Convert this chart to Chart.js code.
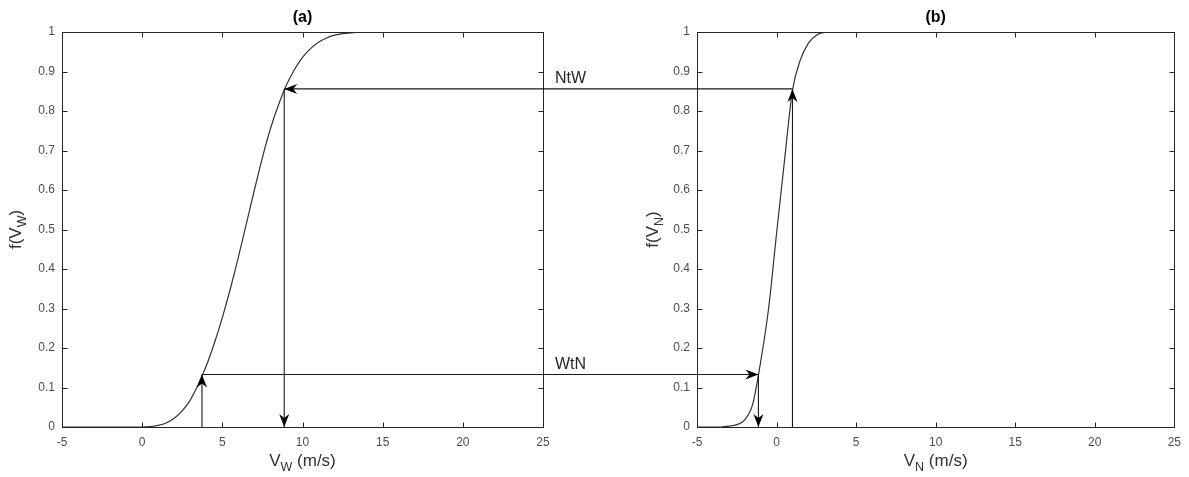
<!DOCTYPE html>
<html><head><meta charset="utf-8">
<script src="https://cdn.jsdelivr.net/npm/chart.js@4.4.1/dist/chart.umd.min.js"></script>
<style>
html,body{margin:0;padding:0;background:#fff;}
#wrap{position:relative;width:1189px;height:477px;overflow:hidden;background:#fff;}
#pa{position:absolute;left:0;top:0;width:615px;height:477px;}
#pb{position:absolute;left:615px;top:0;width:574px;height:477px;}
</style></head><body>
<div id="wrap">
<div id="pa"><canvas id="ca" width="615" height="477"></canvas></div>
<div id="pb"><canvas id="cb" width="574" height="477"></canvas></div>
</div>
<script>
// ---- data ----
const xTickValues = [-5, 0, 5, 10, 15, 20, 25];
const yTickValues = [0, 0.1, 0.2, 0.3, 0.4, 0.5, 0.6, 0.7, 0.8, 0.9, 1];

// panel (a): CDF of V_W
const windX = [-5, 0, 0.5, 1, 1.5, 2, 2.5, 3, 3.5, 4, 4.5, 5, 5.5, 6, 6.5, 7, 7.5, 8, 8.5, 9, 9.5, 10, 10.5, 11, 11.5, 12, 12.5, 13, 14, 25];
const windY = [0, 0, 0.001, 0.004, 0.01, 0.022, 0.041, 0.068, 0.108, 0.155, 0.212, 0.277, 0.35, 0.43, 0.515, 0.6, 0.682, 0.755, 0.815, 0.866, 0.905, 0.936, 0.958, 0.974, 0.985, 0.992, 0.996, 0.998, 1, 1];

// panel (b): CDF of V_N
const nodeX = [-5, -3.5, -3, -2.5, -2, -1.5, -1, -0.5, 0, 0.5, 1, 1.5, 2, 2.5, 3, 3.5, 25];
const nodeY = [0, 0, 0.002, 0.006, 0.018, 0.058, 0.165, 0.3, 0.49, 0.675, 0.852, 0.93, 0.972, 0.992, 0.999, 1, 1];

// transfer arrows
const arrowNames = ['NtW', 'WtN'];
const arrowSource = ['b', 'a'];
const arrowLevel = [0.856, 0.133];
const arrowWindX = [8.86, 3.73];
const arrowNodeX = [1.0, -1.14];

const panelTitles = ['(a)', '(b)'];

// ---- drawing ----
const FONT = '"Liberation Sans", Arial, Helvetica, sans-serif';
const INK = '#262626';

function toPts(xs, ys) { return xs.map((x, i) => ({ x: x, y: ys[i] })); }

function arrowHead(ctx, x, y, dir) {
  const L = 13, W = 5, N = 4;
  const ang = { up: -Math.PI / 2, down: Math.PI / 2, left: Math.PI, right: 0 }[dir];
  ctx.save();
  ctx.translate(x, y);
  ctx.rotate(ang);
  ctx.beginPath();
  ctx.moveTo(0, 0);
  ctx.lineTo(-L, -W);
  ctx.lineTo(-L + N, 0);
  ctx.lineTo(-L, W);
  ctx.closePath();
  ctx.fillStyle = '#000';
  ctx.fill();
  ctx.restore();
}

function drawSubText(ctx, parts, cx, cy) {
  let total = 0;
  parts.forEach(p => { ctx.font = p[1] + 'px ' + FONT; total += ctx.measureText(p[0]).width; });
  let x = cx - total / 2;
  parts.forEach(p => {
    ctx.font = p[1] + 'px ' + FONT;
    ctx.fillText(p[0], x, cy + p[2]);
    x += ctx.measureText(p[0]).width;
  });
}

function makePlugin(panel) {
  return {
    id: 'decor' + panel,
    afterDraw(chart) {
      const ctx = chart.ctx;
      const xs = chart.scales.x, ys = chart.scales.y;
      const area = chart.chartArea;
      ctx.save();
      ctx.strokeStyle = INK;
      ctx.lineWidth = 1;
      const L = Math.round(area.left) + 0.5, R = Math.round(area.right) + 0.5;
      const T = Math.round(area.top) + 0.5, B = Math.round(area.bottom) + 0.5;
      ctx.strokeRect(L, T, R - L, B - T);
      ctx.beginPath();
      xTickValues.forEach(v => {
        const px = Math.round(xs.getPixelForValue(v)) + 0.5;
        ctx.moveTo(px, B); ctx.lineTo(px, B - 5);
        ctx.moveTo(px, T); ctx.lineTo(px, T + 5);
      });
      yTickValues.forEach(v => {
        const py = Math.round(ys.getPixelForValue(v)) + 0.5;
        ctx.moveTo(L, py); ctx.lineTo(L + 5, py);
        ctx.moveTo(R, py); ctx.lineTo(R - 5, py);
      });
      ctx.stroke();

      // title
      ctx.fillStyle = '#000';
      ctx.textAlign = 'center';
      ctx.textBaseline = 'alphabetic';
      ctx.font = 'bold 16px ' + FONT;
      ctx.fillText(panelTitles[panel === 'a' ? 0 : 1], (area.left + area.right) / 2, 22);

      // axis titles
      const sub = panel === 'a' ? 'W' : 'N';
      ctx.fillStyle = '#333';
      ctx.textAlign = 'left';
      drawSubText(ctx, [['V', 17, 0], [sub, 12.5, 5], [' (m/s)', 17, 0]], (area.left + area.right) / 2, 466);
      ctx.save();
      const yTitleX = panel === 'a' ? 21 : 43;
      ctx.translate(yTitleX, (area.top + area.bottom) / 2);
      ctx.rotate(-Math.PI / 2);
      drawSubText(ctx, [['f(V', 17, 0], [sub, 12.5, 5], [')', 17, 0]], 0, 0);
      ctx.restore();

      // arrows
      ctx.strokeStyle = '#1a1a1a';
      ctx.lineWidth = 1.1;
      const W = chart.width;
      arrowNames.forEach((name, i) => {
        const yPix = ys.getPixelForValue(arrowLevel[i]);
        const y0 = ys.getPixelForValue(0);
        const xv = panel === 'a' ? arrowWindX[i] : arrowNodeX[i];
        const xPix = xs.getPixelForValue(xv);
        const edge = panel === 'a' ? W : 0;
        const isSource = arrowSource[i] === panel;
        ctx.beginPath();
        ctx.moveTo(edge, yPix); ctx.lineTo(xPix, yPix);
        ctx.moveTo(xPix, y0); ctx.lineTo(xPix, yPix);
        ctx.stroke();
        if (isSource) {
          arrowHead(ctx, xPix, yPix, 'up');
        } else {
          arrowHead(ctx, xPix, yPix, panel === 'a' ? 'left' : 'right');
          arrowHead(ctx, xPix, y0, 'down');
        }
        if (panel === 'a') {
          ctx.fillStyle = '#262626';
          ctx.font = '16px ' + FONT;
          ctx.textAlign = 'left';
          ctx.textBaseline = 'alphabetic';
          ctx.fillText(name, 555, yPix - 5.5);
        }
      });
      ctx.restore();
    }
  };
}

function makeChart(id, panel, xsData, ysData, yAxisWidth, padRight) {
  return new Chart(document.getElementById(id), {
    type: 'scatter',
    data: {
      datasets: [{
        data: toPts(xsData, ysData),
        showLine: true,
        borderColor: '#333',
        borderWidth: 1.2,
        pointRadius: 0,
        cubicInterpolationMode: 'monotone',
        fill: false
      }]
    },
    options: {
      responsive: false,
      animation: false,
      devicePixelRatio: 1,
      layout: { padding: { top: 32, right: padRight, bottom: 0, left: 0 } },
      plugins: { legend: { display: false }, tooltip: { enabled: false }, title: { display: false } },
      scales: {
        x: {
          type: 'linear', min: -5, max: 25,
          afterBuildTicks: s => { s.ticks = xTickValues.map(v => ({ value: v })); },
          afterFit: s => { s.height = 50; },
          grid: { display: false, drawTicks: false },
          border: { display: false },
          ticks: { padding: 8, color: '#4d4d4d', font: { family: FONT, size: 12 }, maxRotation: 0, autoSkip: false,
                   callback: v => String(v) }
        },
        y: {
          type: 'linear', min: 0, max: 1,
          afterBuildTicks: s => { s.ticks = yTickValues.map(v => ({ value: v })); },
          afterFit: s => { s.width = yAxisWidth; },
          grid: { display: false, drawTicks: false },
          border: { display: false },
          ticks: { padding: 7, color: '#4d4d4d', font: { family: FONT, size: 12 }, autoSkip: false,
                   callback: v => String(Math.round(v * 10) / 10) }
        }
      }
    },
    plugins: [makePlugin(panel)]
  });
}

makeChart('ca', 'a', windX, windY, 62, 72);
makeChart('cb', 'b', nodeX, nodeY, 82, 14);
</script>
</body></html>
